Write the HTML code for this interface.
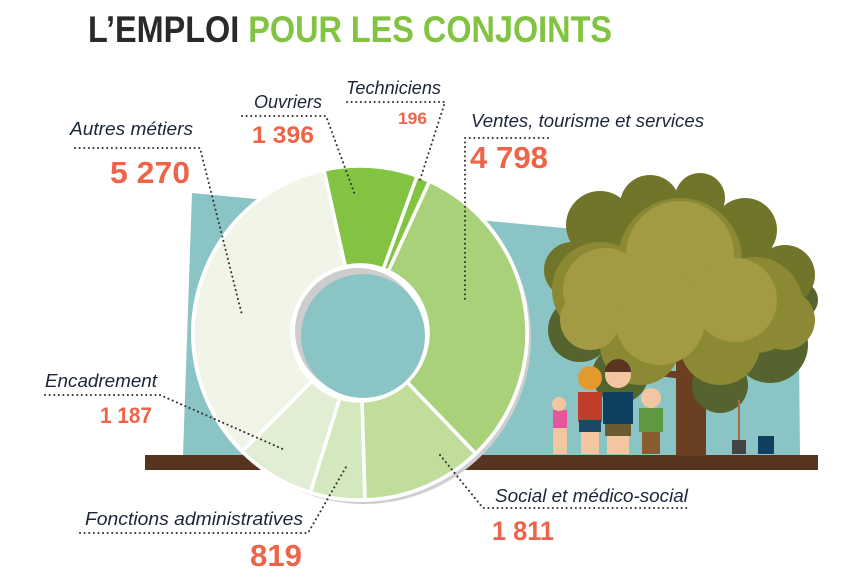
<!DOCTYPE html>
<html><head><meta charset="utf-8"><style>
html,body{margin:0;padding:0;background:#fff}
svg{display:block}
.lab{font-family:"Liberation Sans",sans-serif;font-style:italic;fill:#1c2638;font-size:18px}
.num{font-family:"Liberation Sans",sans-serif;font-weight:bold;fill:#ee6449}
.dot{fill:none;stroke:#333;stroke-width:2;stroke-dasharray:0.1 4.5;stroke-linecap:round}
</style></head><body>
<svg width="861" height="580" viewBox="0 0 861 580" xmlns="http://www.w3.org/2000/svg">
<text x="88" y="42" font-family="Liberation Sans,sans-serif" font-weight="bold" font-size="37" textLength="524" lengthAdjust="spacingAndGlyphs"><tspan fill="#2b2a29">L’EMPLOI </tspan><tspan fill="#82c341">POUR LES CONJOINTS</tspan></text>
<polygon points="192,193 798,250 800,455 183,455" fill="#8bc4c5"/>
<rect x="145" y="455" width="673" height="15" fill="#56341f"/>
<g>
<rect x="676" y="350" width="30" height="106" fill="#6b3f22"/>
<path d="M690 380 L650 375 L655 370 L692 372Z M700 380 L740 360 L745 366 L705 390Z" fill="#6b3f22"/>
<g fill="#55632e">
<circle cx="580" cy="330" r="32"/><circle cx="620" cy="375" r="28"/><circle cx="770" cy="345" r="38"/><circle cx="720" cy="385" r="28"/><circle cx="800" cy="300" r="18"/>
</g>
<g fill="#717529">
<circle cx="600" cy="225" r="34"/><circle cx="650" cy="205" r="30"/><circle cx="700" cy="198" r="25"/><circle cx="745" cy="230" r="32"/><circle cx="785" cy="275" r="30"/><circle cx="572" cy="270" r="28"/>
</g>
<g fill="#8c8935">
<circle cx="600" cy="290" r="48"/><circle cx="680" cy="260" r="62"/><circle cx="755" cy="305" r="48"/><circle cx="720" cy="345" r="40"/><circle cx="640" cy="345" r="40"/><circle cx="785" cy="320" r="30"/>
</g>
<g fill="#a39b43">
<circle cx="605" cy="290" r="42"/><circle cx="680" cy="255" r="54"/><circle cx="660" cy="320" r="45"/><circle cx="735" cy="300" r="42"/><circle cx="590" cy="320" r="30"/>
</g>
<rect x="553" y="410" width="14" height="18" fill="#e6569a"/><circle cx="559" cy="404" r="7" fill="#f3c5a0"/><rect x="553" y="428" width="14" height="26" fill="#f3c5a0"/>
<rect x="578" y="392" width="24" height="30" fill="#c13d2c"/><circle cx="590" cy="378" r="12" fill="#e39a2c"/><rect x="579" y="420" width="22" height="12" fill="#1c4863"/><rect x="581" y="432" width="18" height="22" fill="#f3c5a0"/>
<rect x="603" y="392" width="30" height="32" fill="#0f3f5e"/><circle cx="618" cy="375" r="13" fill="#f3c5a0"/><path d="M605 372 a13 13 0 0 1 26 0 Z" fill="#5a3420"/><rect x="605" y="424" width="26" height="12" fill="#6e5a32"/><rect x="607" y="436" width="22" height="18" fill="#f3c5a0"/>
<rect x="639" y="408" width="24" height="24" fill="#5f9940"/><circle cx="651" cy="398" r="10" fill="#f3c5a0"/><rect x="642" y="432" width="18" height="22" fill="#8a5d2e"/>
<rect x="738" y="400" width="2" height="40" fill="#b06b3a"/><rect x="732" y="440" width="14" height="14" fill="#444"/>
<rect x="758" y="436" width="16" height="18" fill="#11405f"/>
</g>
<circle cx="364" cy="337" r="167" fill="#cfcfcf"/>
<circle cx="360" cy="333" r="169" fill="#fff"/>
<g stroke="#fff" stroke-width="3.5">
<path d="M323.9,170 A167,167 0 0 1 417.1,176.1 L383.3,269.1 A68,68 0 0 0 345.3,266.6Z" fill="#82c341"/>
<path d="M417.1,176.1 A167,167 0 0 1 429.5,181.2 L388.3,271.2 A68,68 0 0 0 383.3,269.1Z" fill="#82c341"/>
<path d="M429.5,181.2 A167,167 0 0 1 475.6,453.5 L407.1,382.1 A68,68 0 0 0 388.3,271.2Z" fill="#a9d179"/>
<path d="M475.6,453.5 A167,167 0 0 1 365,499.9 L362,401 A68,68 0 0 0 407.1,382.1Z" fill="#c0dd9c"/>
<path d="M365,499.9 A167,167 0 0 1 310.3,492.5 L339.8,397.9 A68,68 0 0 0 362,401Z" fill="#d3e8bd"/>
<path d="M310.3,492.5 A167,167 0 0 1 242.1,451.3 L312,381.2 A68,68 0 0 0 339.8,397.9Z" fill="#e1eed3"/>
<path d="M242.1,451.3 A167,167 0 0 1 323.9,170 L345.3,266.6 A68,68 0 0 0 312,381.2Z" fill="#f0f5e7"/>
</g>
<circle cx="360" cy="333" r="66" fill="#fff"/>
<circle cx="358" cy="331" r="63" fill="#cdcdcd"/>
<circle cx="363" cy="336" r="62" fill="#8bc4c5"/>
<path class="dot" d="M75,148 L200,148 L242,315"/>
<path class="dot" d="M242,116 L326,116 L355,195"/>
<path class="dot" d="M347,102 L445,102 L420,180"/>
<path class="dot" d="M548,138 L465,138 L465,303"/>
<path class="dot" d="M45,395 L160,395 L285,450"/>
<path class="dot" d="M80,533 L308,533 L346,467"/>
<path class="dot" d="M440,455 L483,508 L688,508"/>
<text class="lab" x="70" y="135" textLength="123" lengthAdjust="spacingAndGlyphs">Autres métiers</text>
<text class="num" x="110" y="183" font-size="31" textLength="80" lengthAdjust="spacingAndGlyphs">5 270</text>
<text class="lab" x="254" y="108" textLength="68" lengthAdjust="spacingAndGlyphs">Ouvriers</text>
<text class="num" x="252" y="143" font-size="24" textLength="62" lengthAdjust="spacingAndGlyphs">1 396</text>
<text class="lab" x="346" y="94" textLength="95" lengthAdjust="spacingAndGlyphs">Techniciens</text>
<text class="num" x="398" y="124" font-size="17" textLength="29" lengthAdjust="spacingAndGlyphs">196</text>
<text class="lab" x="471" y="127" textLength="233" lengthAdjust="spacingAndGlyphs">Ventes, tourisme et services</text>
<text class="num" x="470" y="168" font-size="31" textLength="78" lengthAdjust="spacingAndGlyphs">4 798</text>
<text class="lab" x="45" y="387" textLength="112" lengthAdjust="spacingAndGlyphs">Encadrement</text>
<text class="num" x="100" y="423" font-size="22" textLength="52" lengthAdjust="spacingAndGlyphs">1 187</text>
<text class="lab" x="85" y="525" textLength="218" lengthAdjust="spacingAndGlyphs">Fonctions administratives</text>
<text class="num" x="250" y="566" font-size="31" textLength="52" lengthAdjust="spacingAndGlyphs">819</text>
<text class="lab" x="495" y="502" textLength="193" lengthAdjust="spacingAndGlyphs">Social et médico-social</text>
<text class="num" x="492" y="540" font-size="27" textLength="62" lengthAdjust="spacingAndGlyphs">1 811</text>
</svg>
</body></html>
